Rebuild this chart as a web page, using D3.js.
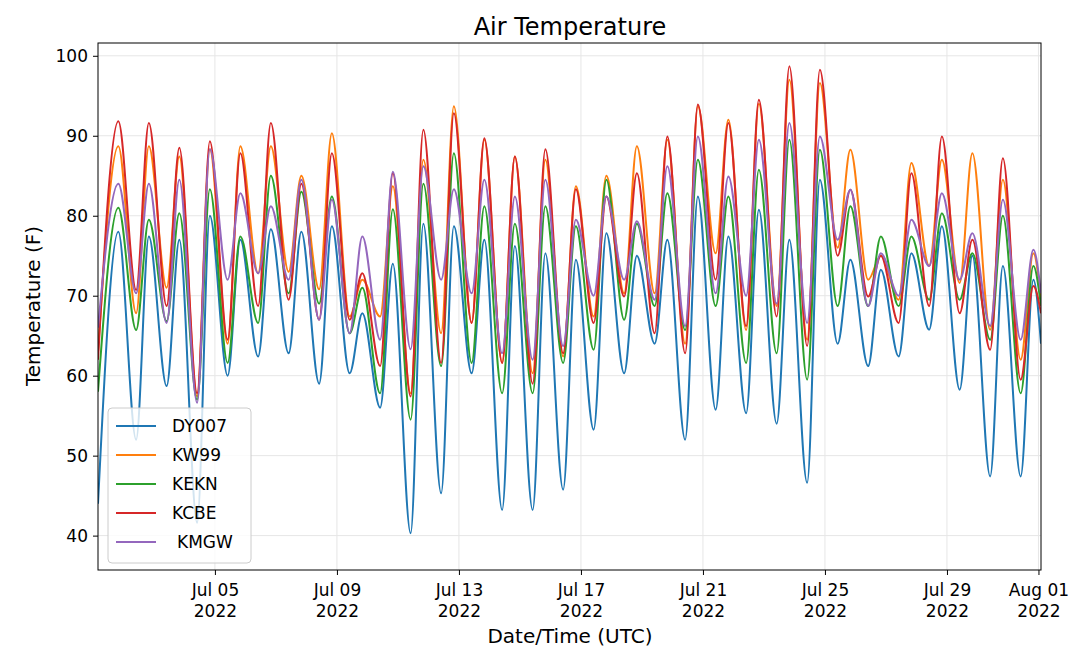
<!DOCTYPE html>
<html><head><meta charset="utf-8">
<script src="https://cdn.jsdelivr.net/npm/d3@7"></script>
<style>body{margin:0;background:#fff;font-family:"DejaVu Sans",sans-serif}</style>
</head><body><svg id="c" width="1080" height="659"></svg>
<script>
const seriesNames = ["DY007","KW99","KEKN","KCBE","KMGW"];
const colors = ["#1f77b4","#ff7f0e","#2ca02c","#d62728","#9467bd"];
const startValues = [44,63,58,62,66];
const endValues = [64,69.5,68.7,67.8,70.3];
const peaks = [
 [78,77.4,77,80,77,78.3,78,78.7,67.8,74,79,78.7,77,76.2,75.3,74.5,77.8,75,77,82.4,77.4,80.75,77,84.5,74.5,73.25,75.3,78.7,75,73.7,72],
 [88.7,88.7,87.4,88.3,88.7,88.7,85,90.3,72,83.7,87,93.7,89.5,87.4,87,83.7,85,88.7,89.5,93.7,92,94,97,96.6,88.25,75,86.6,87,87.8,84.5,75.3],
 [81,79.5,80.3,83.3,77.4,85,83,82.4,71,80.8,84,87.8,81.2,79,81.2,78.7,84.5,79,82.8,87,82.4,85.75,89.5,88.25,81.2,77.4,77.4,80.3,75.3,80,73.7],
 [91.8,91.6,88.5,89.3,87.8,91.6,84,87.8,72.8,85.3,90.75,92.8,89.7,87.4,88.3,83.3,82.4,85.3,89.9,93.9,91.6,94.5,98.7,98.25,83.25,75,85.3,89.9,77,87.2,71.2],
 [84,84,84.5,88.3,82.8,81.2,84.5,82,77.4,85.5,86.2,83.3,84.5,82.4,84.5,79.5,82.4,79.3,86.2,89.9,84.9,89.5,91.6,89.9,83.25,75.3,79.5,82.8,77.8,82,75.75]
];
const mins = [
 [52,58.7,41.6,60,62.4,62.8,59,60.3,56,40.3,45.3,60.3,43.2,43.2,45.75,53.25,60.3,64,52,55.75,55.3,54,46.6,64,61.2,62.4,65.75,58.25,47.4,47.4],
 [67.8,71,57.4,64,72.8,73,70.8,67.4,67.4,57.8,65.3,66.6,61.6,60.3,62.4,67.4,70.3,70.3,64,75.3,65.7,68.7,64.5,76,72,69.5,73.7,71.6,65.75,62],
 [65.7,66.8,57,61.6,66.6,70.3,69,65.3,57.8,54.5,61.2,61.6,57.8,57.8,61.6,63.25,67,68.7,65.7,68.7,61.6,62.8,59.5,68.7,68.7,68.7,69.5,69.5,64.5,57.8],
 [70.7,68.7,57.8,64.5,68.7,69.5,67,67,61.2,57.4,61.6,66.6,61.6,59,62.8,66.6,69.9,65.3,62.8,72,66.2,67.4,63.7,75,69.9,66.6,68.7,67.8,63.25,59.5],
 [70.3,66.6,56.6,72,72.8,72,67,65.3,64.5,63.3,72,70.3,62.8,62,63.7,70,72,69.5,66.2,70.3,70,69,66.6,77,68.7,70,73.7,72,66.2,64.5]
];
const tickDates = ["2022-07-05","2022-07-09","2022-07-13","2022-07-17","2022-07-21","2022-07-25","2022-07-29","2022-08-01"];
const yTicks = [40,50,60,70,80,90,100];

const M={l:98,r:1041,t:43,b:570};
const svg=d3.select("#c");
const x=d3.scaleUtc().domain([Date.UTC(2022,6,1,4),Date.UTC(2022,7,1,2)]).range([M.l,M.r]);
const y=d3.scaleLinear().domain([35.7,101.6]).range([M.b,M.t]);
const tds=tickDates.map(d=>new Date(d+"T00:00:00Z"));
const g=svg.append("g");
g.selectAll(".gx").data(tds).enter().append("line").attr("x1",d=>x(d)).attr("x2",d=>x(d)).attr("y1",M.t).attr("y2",M.b).attr("stroke","#e6e6e6");
g.selectAll(".gy").data(yTicks).enter().append("line").attr("x1",M.l).attr("x2",M.r).attr("y1",d=>y(d)).attr("y2",d=>y(d)).attr("stroke","#e6e6e6");

function build(i){
  const pts=[{t:Date.UTC(2022,6,1,4),v:startValues[i]}];
  peaks[i].forEach((p,k)=>{
    pts.push({t:Date.UTC(2022,6,1+k,20),v:p});
    if(k<mins[i].length) pts.push({t:Date.UTC(2022,6,2+k,10),v:mins[i][k]});
  });
  pts.push({t:Date.UTC(2022,7,1,2),v:endValues[i]});
  return pts;
}
const line=d3.line().x(d=>x(d.t)).y(d=>y(d.v)).curve(d3.curveMonotoneX);
const clip=svg.append("clipPath").attr("id","cp").append("rect").attr("x",M.l).attr("y",M.t).attr("width",M.r-M.l).attr("height",M.b-M.t);
seriesNames.forEach((n,i)=>{
  svg.append("path").attr("d",line(build(i))).attr("fill","none").attr("stroke",colors[i]).attr("stroke-width",2).attr("clip-path","url(#cp)");
});
svg.append("rect").attr("x",M.l).attr("y",M.t).attr("width",M.r-M.l).attr("height",M.b-M.t).attr("fill","none").attr("stroke","#000").attr("stroke-width",1);

const ya=svg.append("g").attr("transform",`translate(${M.l},0)`).call(d3.axisLeft(y).tickValues(yTicks).tickSize(5).tickPadding(5));
ya.select(".domain").remove();
ya.selectAll("text").attr("font-size",17).attr("font-family","DejaVu Sans").attr("fill","#000");
const xa=svg.append("g").attr("transform",`translate(0,${M.b})`).call(d3.axisBottom(x).tickValues(tds).tickSize(5).tickFormat(()=>""));
xa.select(".domain").remove();
xa.selectAll(".tick").each(function(d){
  const t=d3.select(this).append("text").attr("fill","#000").attr("font-size",17).attr("font-family","DejaVu Sans").attr("text-anchor","middle");
  t.append("tspan").attr("x",0).attr("y",26).text(d3.utcFormat("%b %d")(d));
  t.append("tspan").attr("x",0).attr("y",47).text("2022");
});
svg.append("text").attr("x",570).attr("y",35).attr("text-anchor","middle").attr("font-size",24).text("Air Temperature");
svg.append("text").attr("x",570).attr("y",643).attr("text-anchor","middle").attr("font-size",20).text("Date/Time (UTC)");
svg.append("text").attr("transform","translate(40,306) rotate(-90)").attr("text-anchor","middle").attr("font-size",20).text("Temperature (F)");

const lg=svg.append("g");
lg.append("rect").attr("x",108).attr("y",408).attr("width",143).attr("height",155).attr("rx",4).attr("fill","rgba(255,255,255,0.8)").attr("stroke","#ccc");
seriesNames.forEach((n,i)=>{
  const yy=426+i*29;
  lg.append("line").attr("x1",116).attr("x2",156).attr("y1",yy).attr("y2",yy).attr("stroke",colors[i]).attr("stroke-width",2);
  lg.append("text").attr("x",i==4?177:172).attr("y",yy+6).attr("font-size",17).text(n);
});
</script></body></html>
